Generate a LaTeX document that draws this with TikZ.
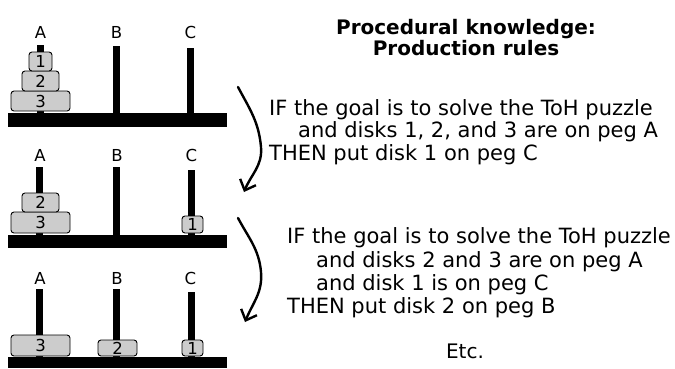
\documentclass[tikz,border=0pt]{standalone}
\usepackage{fontspec}
\setmainfont{DejaVu Sans}
\usetikzlibrary{arrows.meta}

\begin{document}
\begin{tikzpicture}[x=1pt,y=-1pt,
  disk/.style={draw=black, line width=0.9pt, fill=gray!40, rounded corners=3pt,
    inner sep=0pt, font=\fontsize{16.5}{16.5}\selectfont},
  peglabel/.style={anchor=base, inner sep=0pt, font=\fontsize{16.5}{16.5}\selectfont},
  ruletext/.style={anchor=base west, inner sep=0pt, font=\fontsize{21}{22}\selectfont},
  titletext/.style={anchor=base, inner sep=0pt, font=\fontsize{20}{20}\selectfont\bfseries},
  flow/.style={line width=2.4pt, line cap=round, -{Straight Barb[length=9pt,width=17pt,line width=2.4pt]}}
]
\useasboundingbox (0,0) rectangle (675,368);

% ---------- state 1: all disks on peg A ----------
\fill (8,113) rectangle (227,127);
\fill (37,45) rectangle (44,113);
\fill (113,46) rectangle (120,113);
\fill (187,48) rectangle (194,113);
\node[peglabel] (s1A) at (40.5,38) {A};
\node[peglabel] (s1B) at (116.5,38) {B};
\node[peglabel] (s1C) at (190.5,38) {C};
\node[disk, minimum width=59pt, minimum height=20pt] (s1d3) at (40.5,101) {3};
\node[disk, minimum width=37pt, minimum height=20pt] (s1d2) at (40.5,81) {2};
\node[disk, minimum width=23pt, minimum height=19pt] (s1d1) at (40.5,61.5) {1};

% ---------- state 2: disk 1 moved to peg C ----------
\fill (8,235) rectangle (227,248);
\fill (36,167) rectangle (43,235);
\fill (113,167) rectangle (120,235);
\fill (188,170) rectangle (195,235);
\node[peglabel] (s2A) at (40,161) {A};
\node[peglabel] (s2B) at (117,161) {B};
\node[peglabel] (s2C) at (191.5,161) {C};
\node[disk, minimum width=59pt, minimum height=21pt] (s2d3) at (40.5,222.5) {3};
\node[disk, minimum width=37pt, minimum height=19pt] (s2d2) at (40.5,202.5) {2};
\node[disk, minimum width=21pt, minimum height=17pt] (s2d1) at (192.5,224.5) {1};

% ---------- state 3: disk 2 moved to peg B ----------
\fill (8,357) rectangle (227,368);
\fill (36,289) rectangle (43,357);
\fill (113,289) rectangle (120,357);
\fill (188,292) rectangle (195,357);
\node[peglabel] (s3A) at (40,284) {A};
\node[peglabel] (s3B) at (117,284) {B};
\node[peglabel] (s3C) at (190.5,284) {C};
\node[disk, minimum width=59pt, minimum height=21pt] (s3d3) at (40.5,345.5) {3};
\node[disk, minimum width=39pt, minimum height=16pt] (s3d2) at (117.5,348) {2};
\node[disk, minimum width=21pt, minimum height=16pt] (s3d1) at (192.5,348) {1};

% ---------- transitions ----------
\coordinate (t1s) at (238,87);
\coordinate (t1m) at (261,147);
\coordinate (t1e) at (244,192);
\draw[flow] (t1s) to[out=-62,in=95] (t1m) to[out=-85,in=68] (t1e);
\coordinate (t2s) at (238,218);
\coordinate (t2m) at (261,272);
\coordinate (t2e) at (245,322);
\draw[flow] (t2s) to[out=-62,in=95] (t2m) to[out=-85,in=68] (t2e);

% ---------- title ----------
\node[titletext] (title1) at (466,34) {Procedural knowledge:};
\node[titletext] (title2) at (466,55) {Production rules};

% ---------- production rule 1 ----------
\node[ruletext] (r1a) at (269,115) {IF the goal is to solve the ToH puzzle};
\node[ruletext] (r1b) at (298,137) {and disks 1, 2, and 3 are on peg A};
\node[ruletext] (r1c) at (269,160) {THEN put disk 1 on peg C};

% ---------- production rule 2 ----------
\node[ruletext] (r2a) at (287,243) {IF the goal is to solve the ToH puzzle};
\node[ruletext] (r2b) at (316,267) {and disks 2 and 3 are on peg A};
\node[ruletext] (r2c) at (316,290) {and disk 1 is on peg C};
\node[ruletext] (r2d) at (287,313) {THEN put disk 2 on peg B};

\node[anchor=base, inner sep=0pt, font=\fontsize{20}{20}\selectfont] (etc) at (465,358) {Etc.};
\end{tikzpicture}
\end{document}
